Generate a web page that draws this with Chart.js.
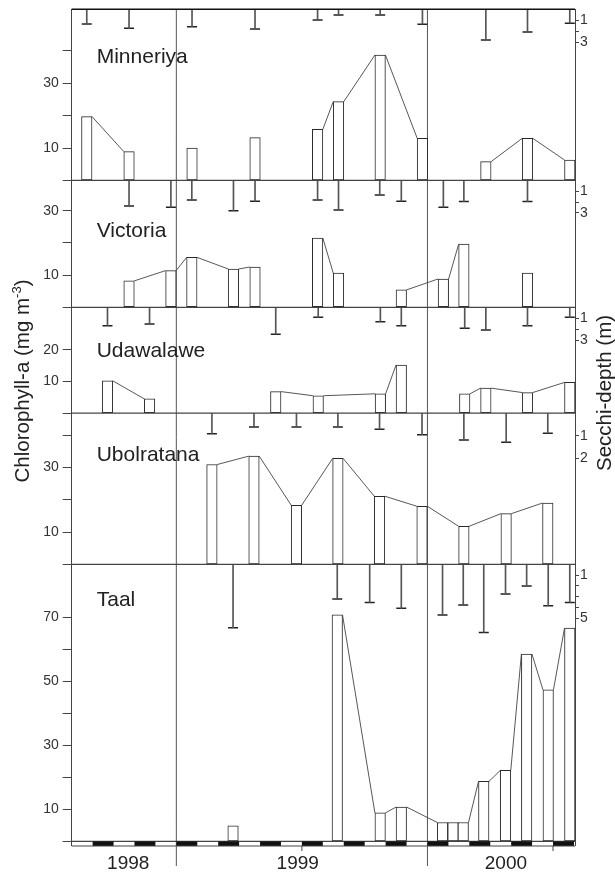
<!DOCTYPE html>
<html><head><meta charset="utf-8">
<script src="https://cdn.jsdelivr.net/npm/chart.js@4.4.1/dist/chart.umd.min.js"></script>
<style>html,body{margin:0;padding:0;background:#fff;}canvas{display:block;}</style>
</head><body>
<canvas id="c" width="615" height="874"></canvas>
<script>
// ---------- DATA (x = months since 1 Jan 1998) ----------
const panelNames = ['Minneriya', 'Victoria', 'Udawalawe', 'Ubolratana', 'Taal'];

const minneriyaDates  = [7.72, 9.74, 12.75, 15.76, 18.75, 19.75, 21.74, 23.76, 26.79, 28.78, 30.8];
const minneriyaChl    = [19.7, 8.9, 10.0, 13.2, 15.8, 24.3, 38.7, 13.0, 5.8, 13.0, 6.3];
const minneriyaSecchi = [1.34, 1.73, 1.58, 1.79, 0.97, 0.52, 0.52, 1.36, 2.79, 2.06, 1.27];
const minneriyaRuns   = [1, 1, 2, 3, 4, 4, 4, 4, 5, 5, 5];

const victoriaDates  = [9.74, 11.74, 12.74, 14.73, 15.76, 18.75, 19.75, 21.72, 22.75, 24.76, 25.74, 28.78];
const victoriaChl    = [8.2, 11.4, 15.5, 11.9, 12.5, 21.5, 10.6, null, 5.4, 8.8, 19.6, 10.6];
const victoriaSecchi = [2.36, 2.48, 1.81, 2.80, 1.93, 1.81, 2.73, 1.34, 1.93, 2.48, 1.96, 1.96];
const victoriaRuns   = [1, 1, 1, 1, 1, 2, 2, null, 3, 3, 3, 4];

const udawaweDates  = [8.71, 10.72, 16.75, 18.78, 21.75, 22.75, 25.78, 26.79, 28.78, 30.8];
const udawaweChl    = [10.2, 4.5, 6.8, 5.5, 6.1, 15.2, 6.1, 7.9, 6.5, 9.7];
const udawaweSecchi = [1.67, 1.52, 2.45, 0.91, 1.31, 1.67, 1.91, 2.06, 1.67, 0.91];
const udawaweRuns   = [1, 1, 2, 2, 2, 2, 3, 3, 3, 3];

const ubolratanaDates  = [13.70, 15.71, 17.74, 19.72, 21.71, 23.74, 25.74, 27.76, 29.75];
const ubolratanaChl    = [30.9, 33.5, 18.3, 32.8, 21.1, 18.0, 11.8, 15.7, 19.0];
const ubolratanaSecchi = [0.92, 0.62, 0.62, 0.62, 0.71, 0.96, 1.19, 1.29, 0.89];
const ubolratanaRuns   = [1, 1, 1, 1, 1, 1, 1, 1, 1];

const taalDates  = [14.71, 19.69, 21.24, 21.74, 22.75, 24.72, 25.22, 25.71, 26.69, 27.73, 28.74, 29.77, 30.8];
const taalChl    = [4.9, 70.8, null, 8.9, 10.75, 5.9, 5.9, 5.9, 18.75, 22.2, 58.6, 47.4, 66.7];
const taalSecchi = [5.87, 3.21, 3.52, null, 4.07, 4.69, null, 3.77, 6.3, 2.75, 2.01, 3.83, 3.52];
const taalRuns   = [1, 2, null, 2, 2, 2, 2, 2, 2, 2, 2, 2, 2];

// axis tick values / labels
const minneriyaChlTicks = [0, 10, 20, 30, 40];           const minneriyaChlLabels = [10, 30];
const victoriaChlTicks  = [0, 10, 20, 30];               const victoriaChlLabels  = [10, 30];
const udawaweChlTicks   = [0, 10, 20];                   const udawaweChlLabels   = [10, 20];
const ubolratanaChlTicks= [0, 10, 20, 30, 40];           const ubolratanaChlLabels= [10, 30];
const taalChlTicks      = [0, 10, 20, 30, 40, 50, 60, 70]; const taalChlLabels    = [10, 30, 50, 70];

const minneriyaSecchiTicks = [1, 2, 3];       const minneriyaSecchiLabels = [1, 3];
const victoriaSecchiTicks  = [1, 2, 3];       const victoriaSecchiLabels  = [1, 3];
const udawaweSecchiTicks   = [1, 2, 3];       const udawaweSecchiLabels   = [1, 3];
const ubolratanaSecchiTicks= [1, 2];          const ubolratanaSecchiLabels= [1, 2];
const taalSecchiTicks      = [1, 2, 3, 4, 5]; const taalSecchiLabels      = [1, 5];

const yearLabels     = ['1998', '1999', '2000'];
const yearLabelPos   = [9.7, 17.8, 27.75];
const yearBoundaries = [12, 24];
const midYearTicks   = [18, 30];
const darkMonths     = [8, 10, 12, 14, 16, 18, 20, 22, 24, 26, 28, 30];

// ---------- LAYOUT / STYLE ----------
const FONT = '"Liberation Sans", Arial, Helvetica, sans-serif';
const INK = '#222';
const panelLayout = [ // height weight (px), chl max, secchi max, name offset
  {h: 171.2, chlMax: 52.8, sMax: 15.56, nameDy: 53.5},
  {h: 126.9, chlMax: 39.4, sMax: 11.75, nameDy: 56.5},
  {h: 105.9, chlMax: 33.4, sMax: 9.63,  nameDy: 49.6},
  {h: 151.3, chlMax: 46.8, sMax: 6.72,  nameDy: 47.7},
  {h: 277.1, chlMax: 86.6, sMax: 25.65, nameDy: 42.0}
];
const stripeH = 4.6;

const panels = [
  {dates: minneriyaDates, chl: minneriyaChl, secchi: minneriyaSecchi, runs: minneriyaRuns, ct: minneriyaChlTicks, cl: minneriyaChlLabels, st: minneriyaSecchiTicks, sl: minneriyaSecchiLabels},
  {dates: victoriaDates, chl: victoriaChl, secchi: victoriaSecchi, runs: victoriaRuns, ct: victoriaChlTicks, cl: victoriaChlLabels, st: victoriaSecchiTicks, sl: victoriaSecchiLabels},
  {dates: udawaweDates, chl: udawaweChl, secchi: udawaweSecchi, runs: udawaweRuns, ct: udawaweChlTicks, cl: udawaweChlLabels, st: udawaweSecchiTicks, sl: udawaweSecchiLabels},
  {dates: ubolratanaDates, chl: ubolratanaChl, secchi: ubolratanaSecchi, runs: ubolratanaRuns, ct: ubolratanaChlTicks, cl: ubolratanaChlLabels, st: ubolratanaSecchiTicks, sl: ubolratanaSecchiLabels},
  {dates: taalDates, chl: taalChl, secchi: taalSecchi, runs: taalRuns, ct: taalChlTicks, cl: taalChlLabels, st: taalSecchiTicks, sl: taalSecchiLabels}
];

const LEFT_W = 71.7, RIGHT_W = 40;

const scales = {
  x: {
    type: 'linear', position: 'bottom', min: 7, max: 31.05, offset: false,
    grid: {display: false, drawTicks: false, tickLength: 0},
    border: {display: false},
    afterBuildTicks: s => { s.ticks = yearLabelPos.map(v => ({value: v})); },
    afterFit: s => { s.height = 28; },
    ticks: {autoSkip: false, maxRotation: 0, padding: 6, color: INK,
      font: {family: FONT, size: 19}, callback: (v, i) => yearLabels[i]}
  }
};

const datasets = [];
panels.forEach((p, k) => {
  const L = panelLayout[k];
  const cId = 'c' + k, sId = 's' + k;
  scales[cId] = {
    type: 'linear', position: 'left', stack: 'L', stackWeight: L.h, weight: 10 - k,
    min: 0, max: L.chlMax,
    afterBuildTicks: s => { s.ticks = p.ct.map(v => ({value: v})); },
    afterFit: s => { s.width = LEFT_W; },
    ticks: {autoSkip: false, padding: 4, color: '#333', font: {family: FONT, size: 14, lineHeight: 0.5},
      callback: v => p.cl.includes(v) ? String(v) : ''},
    grid: {drawOnChartArea: false, drawTicks: true, tickLength: 9, color: '#444', lineWidth: 1},
    border: {display: true, color: '#444', width: 1}
  };
  scales[sId] = {
    type: 'linear', position: 'right', stack: 'R', stackWeight: L.h, weight: k,
    min: 0, max: L.sMax, reverse: true,
    afterBuildTicks: s => { s.ticks = p.st.map(v => ({value: v})); },
    afterFit: s => { s.width = RIGHT_W; },
    ticks: {autoSkip: false, padding: 1, color: '#333', font: {family: FONT, size: 14, lineHeight: 0.5},
      callback: v => p.sl.includes(v) ? String(v) : ''},
    grid: {drawOnChartArea: false, drawTicks: true, tickLength: 4, color: '#444', lineWidth: 1},
    border: {display: true, color: '#444', width: 1}
  };
  p.chlIndex = datasets.length;
  datasets.push({
    type: 'bar', xAxisID: 'x', yAxisID: cId, grouped: false,
    data: p.dates.map((d, i) => ({x: d, y: p.chl[i]})),
    backgroundColor: '#fff', borderColor: '#2a2a2a', borderWidth: 1, borderSkipped: false,
    barThickness: 10.5
  });
  datasets.push({
    type: 'bar', xAxisID: 'x', yAxisID: sId, grouped: false,
    data: p.dates.map((d, i) => ({x: d, y: p.secchi[i]})),
    backgroundColor: '#555', borderWidth: 0, barThickness: 1
  });
  datasets.push({
    type: 'line', xAxisID: 'x', yAxisID: sId, showLine: false,
    data: p.dates.map((d, i) => ({x: d, y: p.secchi[i]})),
    pointStyle: 'line', pointRadius: 5, pointHoverRadius: 5,
    pointBorderWidth: 1.5, pointBorderColor: '#222', borderColor: '#222'
  });
});
// season stripe rows
scales.cS = {type: 'linear', position: 'left', stack: 'L', stackWeight: stripeH, weight: 0, min: 0, max: 1,
  afterFit: s => { s.width = LEFT_W; }, ticks: {display: false}, grid: {display: false},
  border: {display: true, color: '#444', width: 1}};
scales.sS = {type: 'linear', position: 'right', stack: 'R', stackWeight: stripeH, weight: 20, min: 0, max: 1,
  afterFit: s => { s.width = RIGHT_W; }, ticks: {display: false}, grid: {display: false},
  border: {display: true, color: '#444', width: 1}};

function hline(ctx, x1, x2, y) { ctx.beginPath(); ctx.moveTo(x1, y); ctx.lineTo(x2, y); ctx.stroke(); }
function vline(ctx, x, y1, y2) { ctx.beginPath(); ctx.moveTo(x, y1); ctx.lineTo(x, y2); ctx.stroke(); }

const decor = {
  id: 'decor',
  beforeDatasetsDraw(chart) {
    const ctx = chart.ctx, xs = chart.scales.x, a = chart.chartArea;
    ctx.save();
    ctx.strokeStyle = '#555'; ctx.lineWidth = 1;
    yearBoundaries.forEach(m => vline(ctx, xs.getPixelForValue(m), a.top, a.bottom + 20));
    ctx.restore();
  },
  afterDatasetsDraw(chart) {
    const ctx = chart.ctx, xs = chart.scales.x, a = chart.chartArea;
    ctx.save();
    // connecting lines between bar tops
    ctx.strokeStyle = '#444'; ctx.lineWidth = 0.9;
    panels.forEach(p => {
      const els = chart.getDatasetMeta(p.chlIndex).data;
      let prev = -1;
      ctx.beginPath();
      p.chl.forEach((v, i) => {
        if (v == null) return;
        if (prev >= 0 && p.runs[prev] === p.runs[i]) {
          const e1 = els[prev], e2 = els[i];
          ctx.moveTo(e1.x + e1.width / 2, e1.y);
          ctx.lineTo(e2.x - e2.width / 2, e2.y);
        }
        prev = i;
      });
      ctx.stroke();
    });
    // panel separators
    ctx.strokeStyle = '#444'; ctx.lineWidth = 1.2;
    panels.forEach((p, k) => hline(ctx, a.left, a.right, chart.scales['c' + k].bottom));
    ctx.strokeStyle = '#111'; ctx.lineWidth = 1.6;
    hline(ctx, a.left, a.right, a.top);
    // season stripe
    const st = chart.scales.cS;
    ctx.fillStyle = '#111';
    darkMonths.forEach(m => {
      const x1 = Math.max(xs.getPixelForValue(m), a.left);
      const x2 = Math.min(xs.getPixelForValue(m + 1), a.right);
      ctx.fillRect(x1, st.top, x2 - x1, st.bottom - st.top);
    });
    ctx.strokeStyle = '#444'; ctx.lineWidth = 1;
    hline(ctx, a.left, a.right, st.bottom);
    // mid-year ticks
    midYearTicks.forEach(m => vline(ctx, xs.getPixelForValue(m), st.bottom, st.bottom + 5));
    // panel names
    ctx.fillStyle = INK; ctx.font = '21px ' + FONT; ctx.textBaseline = 'alphabetic'; ctx.textAlign = 'left';
    panelNames.forEach((n, k) => ctx.fillText(n, a.left + 25, chart.scales['c' + k].top + panelLayout[k].nameDy));
    // axis titles
    const TS = 20.5, SS = 13;
    ctx.font = TS + 'px ' + FONT;
    ctx.save();
    ctx.translate(28.5, 381); ctx.rotate(-Math.PI / 2);
    const t1 = 'Chlorophyll-a (mg m', t2 = '-3', t3 = ')';
    const w1 = ctx.measureText(t1).width;
    ctx.font = SS + 'px ' + FONT; const w2 = ctx.measureText(t2).width;
    ctx.font = TS + 'px ' + FONT; const w3 = ctx.measureText(t3).width;
    let sx = -(w1 + w2 + w3) / 2;
    ctx.fillText(t1, sx, 0);
    ctx.font = SS + 'px ' + FONT; ctx.fillText(t2, sx + w1, -8);
    ctx.font = TS + 'px ' + FONT; ctx.fillText(t3, sx + w1 + w2, 0);
    ctx.restore();
    ctx.save();
    ctx.translate(610.5, 393); ctx.rotate(-Math.PI / 2);
    ctx.textAlign = 'center';
    ctx.fillText('Secchi-depth (m)', 0, 0);
    ctx.restore();
    ctx.restore();
  }
};

Chart.defaults.font.family = FONT;
new Chart(document.getElementById('c'), {
  type: 'bar',
  data: {datasets},
  options: {
    responsive: false, animation: false, devicePixelRatio: 1,
    layout: {padding: {top: 9.3, left: 0, right: 0, bottom: 0}},
    plugins: {legend: {display: false}, tooltip: {enabled: false}},
    events: [],
    scales
  },
  plugins: [decor]
});
</script>
</body></html>
